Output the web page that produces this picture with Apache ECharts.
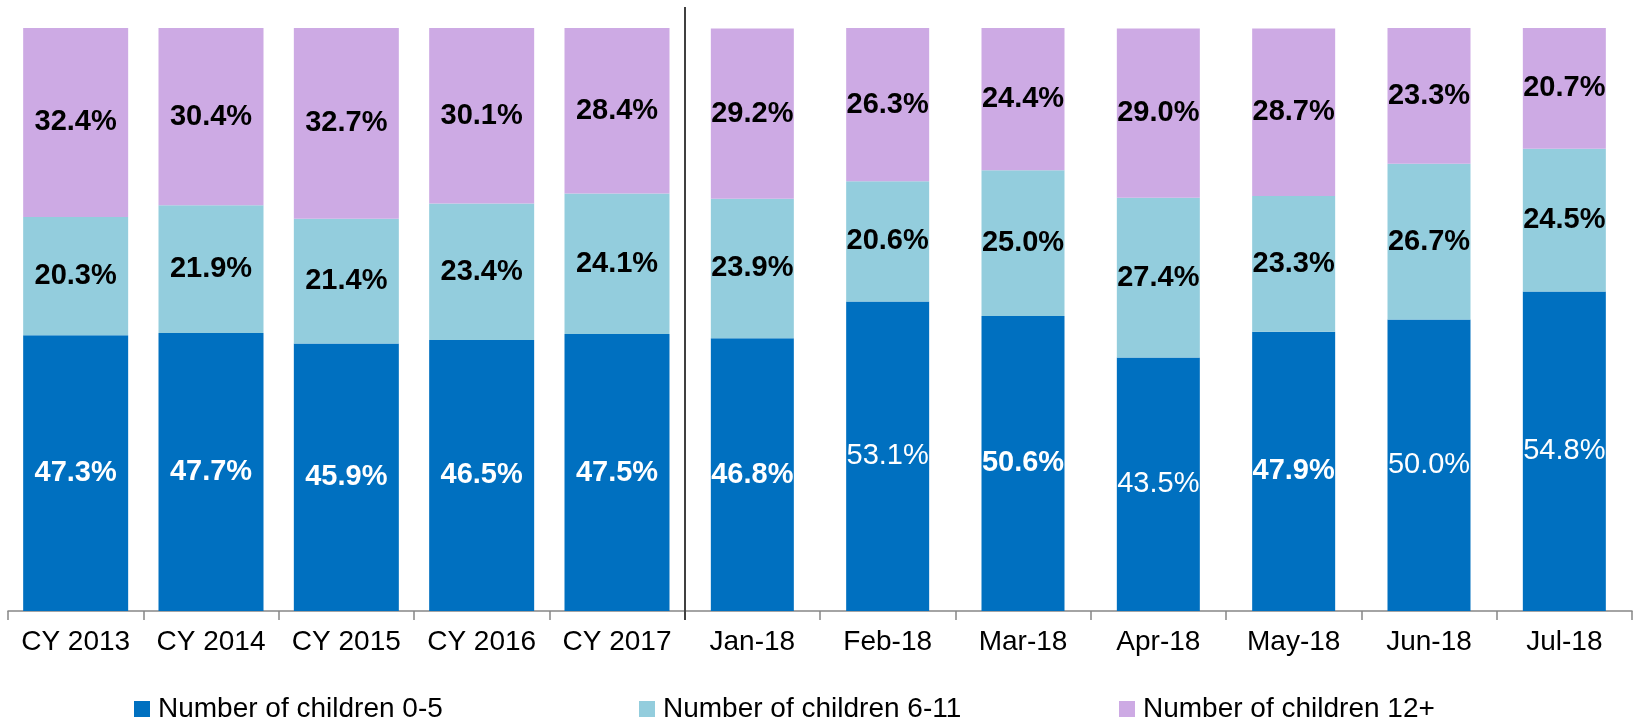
<!DOCTYPE html>
<html>
<head>
<meta charset="utf-8">
<script src="https://cdn.jsdelivr.net/npm/echarts@6/dist/echarts.min.js"></script>
<style>
html,body{margin:0;padding:0;background:#fff;}
#chart{width:1633px;height:724px;}
</style>
</head>
<body>
<div id="chart"></div>
<script>
const categories = ['CY 2013','CY 2014','CY 2015','CY 2016','CY 2017','Jan-18','Feb-18','Mar-18','Apr-18','May-18','Jun-18','Jul-18'];
const yearCount = 5;
const seriesNames = ['Number of children 0-5','Number of children 6-11','Number of children 12+'];
const children0to5  = [47.3, 47.7, 45.9, 46.5, 47.5, 46.8, 53.1, 50.6, 43.5, 47.9, 50.0, 54.8];
const children6to11 = [20.3, 21.9, 21.4, 23.4, 24.1, 23.9, 20.6, 25.0, 27.4, 23.3, 26.7, 24.5];
const children12up  = [32.4, 30.4, 32.7, 30.1, 28.4, 29.2, 26.3, 24.4, 29.0, 28.7, 23.3, 20.7];
const lightLabels = ['Feb-18','Apr-18','Jun-18','Jul-18'];

const colors = ['#0070C0','#93CDDD','#CDAAE4'];
const labelColors = ['#ffffff','#000000','#000000'];
const FONT = '"Liberation Sans", Arial, sans-serif';
const Y_MAX = 103.6;

const allData = [children0to5, children6to11, children12up];

function buildSeries(isYear, idx) {
  const arr = allData[idx];
  return {
    name: seriesNames[idx],
    type: 'bar',
    xAxisIndex: isYear ? 0 : 1,
    stack: isYear ? 'years' : 'months',
    barWidth: isYear ? 105 : 83,
    itemStyle: { color: colors[idx] },
    label: {
      show: true,
      position: 'inside',
      color: labelColors[idx],
      fontFamily: FONT,
      fontSize: 29,
      fontWeight: 'bold',
      formatter: p => Number(p.value).toFixed(1) + '%'
    },
    data: arr.map((v, i) => {
      const inGroup = isYear ? i < yearCount : i >= yearCount;
      if (!inGroup) return '-';
      const light = idx === 0 && lightLabels.includes(categories[i]);
      return { value: v, label: { fontWeight: light ? 'normal' : 'bold' } };
    })
  };
}

const series = [];
[0,1,2].forEach(i => series.push(buildSeries(true, i)));
[0,1,2].forEach(i => series.push(buildSeries(false, i)));

const chart = echarts.init(document.getElementById('chart'), null, { renderer: 'canvas' });
const legendLeft = [129, 634, 1114];
chart.setOption({
  animation: false,
  textStyle: { fontFamily: FONT },
  grid: { left: 8, right: 1, top: 7, bottom: 113, containLabel: false },
  legend: seriesNames.map((n, i) => ({
    data: [n],
    left: legendLeft[i],
    top: 690,
    itemWidth: 16,
    itemHeight: 16,
    icon: 'rect',
    selectedMode: false,
    textStyle: { fontFamily: FONT, fontSize: 28, color: '#000', padding: [0,0,0,3] }
  })),
  xAxis: [
    {
      type: 'category',
      data: categories,
      boundaryGap: true,
      axisLine: { show: true, lineStyle: { color: '#868686', width: 1.5 } },
      axisTick: { show: true, length: 9, interval: 0, lineStyle: { color: '#868686', width: 1.5 } },
      axisLabel: { show: true, interval: 0, color: '#000', fontSize: 28, fontFamily: FONT, margin: 17 },
      splitLine: { show: false }
    },
    {
      type: 'category',
      data: categories,
      boundaryGap: true,
      show: false
    }
  ],
  yAxis: {
    type: 'value',
    min: 0,
    max: Y_MAX,
    show: false,
    splitLine: { show: false }
  },
  series: series
});

// separator between yearly and monthly groups, located through the axes
const xa = chart.convertToPixel({ xAxisIndex: 0 }, categories[yearCount - 1]);
const xb = chart.convertToPixel({ xAxisIndex: 0 }, categories[yearCount]);
const sepX = Math.round((xa + xb) / 2);
const yTop = chart.convertToPixel({ yAxisIndex: 0 }, Y_MAX);
const yBottom = chart.convertToPixel({ yAxisIndex: 0 }, 0) + 9;
chart.setOption({
  graphic: [{
    type: 'line',
    shape: { x1: sepX, y1: yTop, x2: sepX, y2: yBottom },
    style: { stroke: '#404040', lineWidth: 2 },
    z: 100
  }]
});
</script>
</body>
</html>
